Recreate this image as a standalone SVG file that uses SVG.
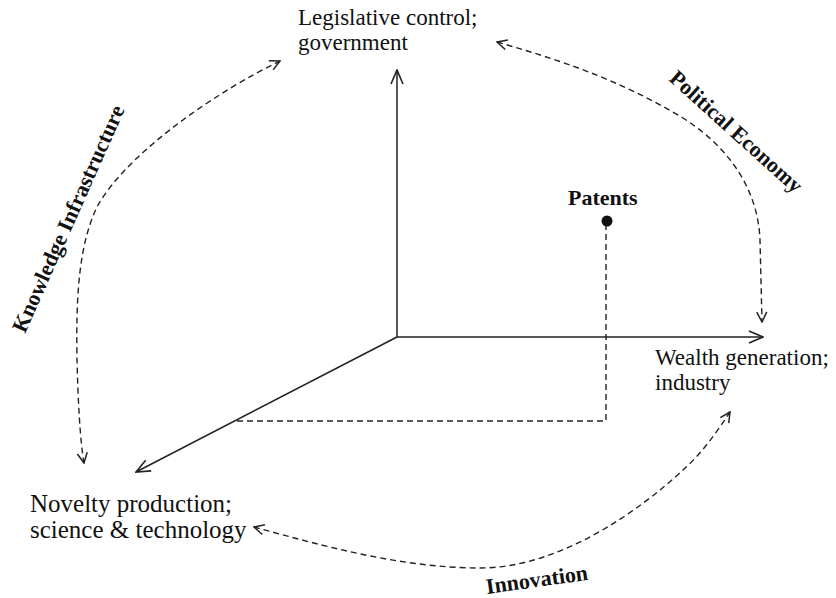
<svg xmlns="http://www.w3.org/2000/svg" width="836" height="598" viewBox="0 0 836 598">
<style>
  .lbl { font-family: "Liberation Serif", "Times New Roman", serif; font-size: 23px; fill: #111; }
  .lbl-l { font-family: "Liberation Serif", "Times New Roman", serif; font-size: 25px; fill: #111; }
  .bold { font-family: "Liberation Serif", "Times New Roman", serif; font-size: 22px; font-weight: bold; fill: #111; }
  .axis { fill: none; stroke: #222; stroke-width: 1.5; }
  .dash { fill: none; stroke: #222; stroke-width: 1.4; stroke-dasharray: 6 4; }
</style>
<defs>
  <marker id="ah" markerUnits="userSpaceOnUse" viewBox="0 0 16 14" refX="15" refY="7" markerWidth="16" markerHeight="14" orient="auto">
    <path d="M1,1 L15,7 L1,13" fill="none" stroke="#222" stroke-width="1.6"/>
  </marker>
  <marker id="dh" markerUnits="userSpaceOnUse" viewBox="0 0 12 12" refX="11" refY="6" markerWidth="12" markerHeight="12" orient="auto-start-reverse">
    <path d="M1,1 L11,6 L1,11" fill="none" stroke="#222" stroke-width="1.5"/>
  </marker>
</defs>

<g id="connectors">
  <path class="axis" d="M397,337 V70" marker-end="url(#ah)"/>
  <path class="axis" d="M397,337 H763" marker-end="url(#ah)"/>
  <path class="axis" d="M397,337 L136,472" marker-end="url(#ah)"/>
  <path class="dash" d="M237,421 H606 V224"/>
  <path class="dash" d="M280,61 C220,90 130,150 98,205 C78,245 76,300 77,360 C78,400 80,440 84,463" marker-start="url(#dh)" marker-end="url(#dh)"/>
  <path class="dash" d="M497,42 C560,60 620,80 683,118 C730,148 758,190 760,240 L762,322" marker-start="url(#dh)" marker-end="url(#dh)"/>
  <path class="dash" d="M254,527 C320,545 400,568 480,568 C560,568 640,510 683,470 C700,455 715,435 730,412" marker-start="url(#dh)" marker-end="url(#dh)"/>
</g>

<g id="node-legislative">
  <text class="lbl" x="298" y="25">Legislative control;</text>
  <text class="lbl" x="298" y="50">government</text>
</g>
<g id="node-wealth">
  <text class="lbl" x="655" y="365">Wealth generation;</text>
  <text class="lbl" x="655" y="390">industry</text>
</g>
<g id="node-novelty">
  <text class="lbl-l" x="30" y="512">Novelty production;</text>
  <text class="lbl-l" x="30" y="538">science &amp; technology</text>
</g>
<g id="node-patents">
  <text class="bold" x="568" y="205">Patents</text>
  <circle cx="607" cy="221" r="5.5" fill="#111"/>
</g>
<g id="label-knowledge">
  <text class="bold" transform="translate(25,334) rotate(-66)">Knowledge Infrastructure</text>
</g>
<g id="label-political">
  <text class="bold" transform="translate(668,80) rotate(42)">Political Economy</text>
</g>
<g id="label-innovation">
  <text class="bold" transform="translate(487,594) rotate(-8)">Innovation</text>
</g>
</svg>
